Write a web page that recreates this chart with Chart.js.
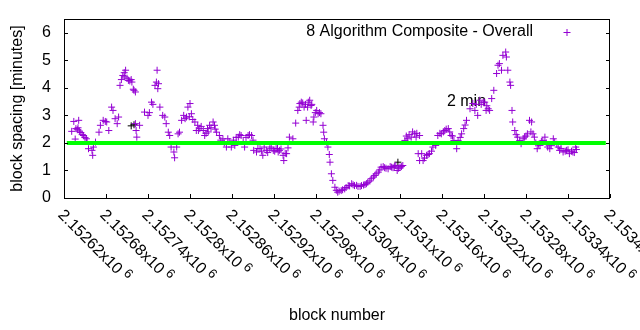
<!DOCTYPE html>
<html>
<head>
<meta charset="utf-8">
<title>block spacing</title>
<script src="https://cdn.jsdelivr.net/npm/chart.js@4.4.1/dist/chart.umd.min.js"></script>
<style>
  html, body { margin: 0; padding: 0; background: #fff; }
  #wrap { width: 640px; height: 330px; position: relative; }
</style>
</head>
<body>
<div id="wrap"><canvas id="chart"></canvas></div>
<script>
// 블록 번호 / 블록 간격(분) - 그림에서 읽은 값
const blockNumbers = [
  2152631, 2152634, 2152636, 2152637, 2152639, 2152640, 2152641, 2152642, 2152644, 2152646,
  2152648, 2152650, 2152652, 2152653, 2152655, 2152660, 2152661, 2152662, 2152665, 2152670,
  2152672, 2152676, 2152679, 2152681, 2152684, 2152688, 2152690, 2152693, 2152696, 2152698,
  2152700, 2152702, 2152704, 2152706, 2152707, 2152708, 2152710, 2152712, 2152714, 2152716,
  2152717, 2152719, 2152720, 2152722, 2152722, 2152723, 2152724, 2152728, 2152735, 2152740,
  2152742, 2152745, 2152747, 2152750, 2152752, 2152753, 2152754, 2152755, 2152757, 2152761,
  2152764, 2152766, 2152769, 2152771, 2152773, 2152777, 2152778, 2152781, 2152783, 2152785,
  2152788, 2152791, 2152793, 2152795, 2152797, 2152799, 2152800, 2152802, 2152804, 2152807,
  2152809, 2152811, 2152812, 2152814, 2152816, 2152819, 2152821, 2152823, 2152825, 2152826,
  2152828, 2152830, 2152833, 2152835, 2152836, 2152838, 2152842, 2152844, 2152847, 2152849,
  2152852, 2152854, 2152856, 2152859, 2152862, 2152864, 2152866, 2152869, 2152871, 2152873,
  2152876, 2152878, 2152880, 2152883, 2152885, 2152888, 2152890, 2152891, 2152895, 2152897,
  2152900, 2152902, 2152904, 2152906, 2152909, 2152911, 2152914, 2152916, 2152919, 2152921,
  2152923, 2152925, 2152926, 2152928, 2152930, 2152933, 2152934, 2152936, 2152938, 2152940,
  2152942, 2152947, 2152951, 2152954, 2152956, 2152957, 2152959, 2152961, 2152963, 2152965,
  2152966, 2152968, 2152969, 2152971, 2152973, 2152974, 2152976, 2152977, 2152979, 2152981,
  2152983, 2152985, 2152987, 2152990, 2152991, 2152992, 2152995, 2152997, 2152999, 2153000,
  2153002, 2153004, 2153007, 2153009, 2153011, 2153013, 2153016, 2153018, 2153021, 2153023,
  2153026, 2153028, 2153031, 2153033, 2153035, 2153038, 2153040, 2153043, 2153045, 2153048,
  2153050, 2153052, 2153054, 2153057, 2153059, 2153062, 2153064, 2153066, 2153069, 2153071,
  2153073, 2153076, 2153078, 2153080, 2153083, 2153086, 2153088, 2153090, 2153092, 2153094,
  2153096, 2153098, 2153100, 2153102, 2153104, 2153107, 2153109, 2153111, 2153113, 2153116,
  2153118, 2153121, 2153123, 2153124, 2153126, 2153128, 2153128, 2153131, 2153133, 2153135,
  2153138, 2153140, 2153142, 2153145, 2153147, 2153151, 2153154, 2153157, 2153159, 2153162,
  2153164, 2153166, 2153169, 2153171, 2153173, 2153175, 2153177, 2153181, 2153183, 2153186,
  2153188, 2153191, 2153193, 2153195, 2153200, 2153204, 2153207, 2153209, 2153211, 2153214,
  2153216, 2153219, 2153221, 2153223, 2153224, 2153226, 2153228, 2153231, 2153234, 2153238,
  2153240, 2153242, 2153245, 2153247, 2153251, 2153252, 2153254, 2153257, 2153258, 2153260,
  2153261, 2153264, 2153266, 2153268, 2153271, 2153273, 2153276, 2153278, 2153280, 2153282,
  2153285, 2153287, 2153288, 2153290, 2153292, 2153294, 2153296, 2153298, 2153300, 2153302,
  2153304, 2153307, 2153309, 2153311, 2153314, 2153316, 2153319, 2153321, 2153324, 2153326,
  2153328, 2153330, 2153333, 2153336, 2153338, 2153340, 2153342, 2153345, 2153347, 2153349,
  2153351, 2153352
];
const spacingMinutes = [
  2.42, 2.78, 2.14, 2.52, 2.48, 2.55, 2.82, 2.43, 2.38, 2.30,
  2.27, 2.20, 2.15, 2.05, 1.79, 1.73, 1.55, 1.85, 2.03, 2.39,
  2.64, 2.82, 2.78, 2.76, 2.45, 3.30, 3.18, 2.88, 2.70, 2.94,
  4.09, 4.30, 4.45, 4.55, 4.40, 4.64, 4.35, 4.27, 4.25, 4.30,
  4.21, 3.95, 3.91, 3.85, 2.70, 2.45, 2.21, 2.64, 3.12, 3.00,
  3.10, 3.48, 3.40, 4.09, 4.21, 4.64, 3.97, 4.15, 3.30, 3.00,
  2.94, 2.70, 2.39, 2.27, 1.85, 1.67, 1.46, 1.85, 2.33, 2.39,
  2.82, 3.00, 2.88, 2.94, 3.30, 2.95, 3.43, 3.06, 2.85, 2.76,
  2.45, 2.64, 2.45, 2.52, 2.60, 2.45, 2.27, 2.35, 2.52, 2.40,
  2.64, 2.55, 2.76, 2.64, 2.50, 2.39, 2.27, 2.10, 2.15, 2.00,
  1.85, 2.15, 2.05, 1.85, 2.10, 1.91, 2.20, 2.21, 2.30, 2.27,
  2.05, 1.85, 2.20, 2.27, 2.30, 2.27, 2.10, 1.73, 1.67, 1.80,
  1.79, 1.70, 1.55, 1.85, 1.73, 1.65, 1.79, 1.85, 1.73, 1.70,
  1.79, 1.80, 1.67, 1.73, 1.78, 1.55, 1.36, 1.62, 1.61, 1.82,
  2.21, 2.15, 2.72, 3.18, 3.30, 3.43, 3.48, 3.45, 3.30, 3.40,
  2.82, 3.30, 3.48, 3.55, 3.36, 3.40, 2.76, 2.94, 3.10, 3.18,
  3.06, 3.10, 3.06, 2.64, 2.39, 2.15, 2.03, 1.85, 1.58, 1.30,
  0.88, 0.64, 0.39, 0.28, 0.21, 0.25, 0.27, 0.30, 0.33, 0.38,
  0.45, 0.44, 0.52, 0.48, 0.45, 0.46, 0.42, 0.42, 0.45, 0.47,
  0.49, 0.52, 0.57, 0.62, 0.70, 0.76, 0.82, 0.88, 0.94, 1.02,
  1.12, 1.14, 1.10, 1.08, 1.06, 1.14, 1.12, 1.10, 1.15, 1.18,
  1.00, 1.08, 1.12, 1.14, 1.18, 2.09, 2.25, 2.15, 2.30, 2.21,
  2.40, 2.33, 2.21, 2.35, 1.61, 2.27, 1.36, 1.61, 1.36, 1.45,
  1.55, 1.58, 1.61, 1.70, 1.85, 1.91, 2.27, 2.35, 2.33, 2.40,
  2.45, 2.50, 2.52, 2.40, 2.27, 2.25, 2.09, 1.79, 2.09, 2.20,
  2.33, 2.52, 2.65, 2.82, 3.24, 3.43, 3.18, 3.40, 3.00, 3.55,
  3.40, 3.48, 3.48, 3.18, 3.35, 3.24, 3.18, 3.61, 3.91, 4.52,
  4.82, 4.88, 4.64, 5.18, 5.30, 5.12, 4.64, 4.21, 4.09, 3.18,
  2.76, 2.45, 2.30, 2.21, 2.09, 1.97, 2.15, 2.21, 2.25, 2.33,
  2.82, 2.40, 2.76, 2.33, 2.21, 2.00, 1.79, 1.95, 1.91, 2.05,
  2.09, 2.21, 2.00, 1.85, 1.79, 1.90, 2.15, 2.03, 1.95, 1.85,
  1.73, 1.80, 1.67, 1.70, 1.73, 1.75, 1.61, 1.70, 1.67, 1.65,
  1.85, 1.76
];

// 검은색으로 보이는 몇 개의 점
const blackBlocks = [2152716, 2152720, 2153097];
const blackSpacing = [2.62, 2.66, 1.30];

// 기준선 (2분)
const targetMinutes = 2;
const targetRange = [2152624, 2153394];

// 축 설정
const xMin = 2152620, xMax = 2153400;
const yMin = 0, yMax = 6.5;
const xTickValues = [2152620, 2152680, 2152740, 2152800, 2152860, 2152920, 2152980,
  2153040, 2153100, 2153160, 2153220, 2153280, 2153340, 2153400];
const xTickLabels = ['2.15262', '2.15268', '2.15274', '2.1528', '2.15286', '2.15292', '2.15298',
  '2.15304', '2.1531', '2.15316', '2.15322', '2.15328', '2.15334', '2.1534'];
const yTickValues = [0, 1, 2, 3, 4, 5, 6];

const seriesLabel = '8 Algorithm Composite - Overall';
const FONT = '"Liberation Sans", Arial, sans-serif';
const PURPLE = '#9400d3';

function toPoints(xs, ys) {
  return xs.map((x, i) => ({ x: x, y: ys[i] }));
}

// 축, 눈금, 라벨, 범례를 gnuplot 스타일로 그리는 플러그인
const gnuplotAxes = {
  id: 'gnuplotAxes',
  beforeDatasetsDraw(chart) {
    const { ctx, scales: { x, y } } = chart;
    ctx.save();
    ctx.fillStyle = '#000';
    ctx.font = '16px ' + FONT;
    ctx.textAlign = 'left';
    ctx.textBaseline = 'middle';
    ctx.fillText('2 min', x.getPixelForValue(2153167), y.getPixelForValue(3.5));
    ctx.restore();
  },
  afterDraw(chart) {
    const { ctx, chartArea: a, scales: { x, y } } = chart;
    ctx.save();
    ctx.strokeStyle = '#000';
    ctx.lineWidth = 1;
    ctx.strokeRect(a.left + 0.5, a.top + 0.5, a.right - a.left - 1, a.bottom - a.top);

    // y 눈금 (양쪽, 안쪽 방향)
    ctx.beginPath();
    yTickValues.forEach(v => {
      const py = Math.round(y.getPixelForValue(v)) + 0.5;
      ctx.moveTo(a.left, py); ctx.lineTo(a.left + 4, py);
      ctx.moveTo(a.right, py); ctx.lineTo(a.right - 4, py);
    });
    // x 눈금 (아래쪽만)
    xTickValues.forEach(v => {
      const px = Math.round(x.getPixelForValue(v)) + 0.5;
      ctx.moveTo(px, a.bottom); ctx.lineTo(px, a.bottom - 4);
    });
    ctx.stroke();

    ctx.fillStyle = '#000';
    ctx.font = '16px ' + FONT;
    ctx.textAlign = 'right';
    ctx.textBaseline = 'middle';
    yTickValues.forEach(v => {
      ctx.fillText(String(v), a.left - 13, y.getPixelForValue(v));
    });

    // 회전된 x 라벨
    xTickValues.forEach((v, i) => {
      const px = x.getPixelForValue(v);
      ctx.save();
      ctx.translate(px + 2, a.bottom + 9);
      ctx.rotate(Math.PI / 4);
      ctx.textAlign = 'left';
      ctx.textBaseline = 'top';
      ctx.font = '16px ' + FONT;
      const main = xTickLabels[i] + 'x10';
      ctx.fillText(main, 0, 0);
      const w = ctx.measureText(main).width;
      ctx.font = '13px ' + FONT;
      ctx.fillText('6', w + 4, -3);
      ctx.restore();
    });

    // 축 제목
    ctx.font = '16px ' + FONT;
    ctx.textAlign = 'center';
    ctx.textBaseline = 'middle';
    ctx.fillText('block number', (a.left + a.right) / 2, 316);
    ctx.save();
    ctx.translate(18, (a.top + a.bottom) / 2);
    ctx.rotate(-Math.PI / 2);
    ctx.fillText('block spacing [minutes]', 0, 0);
    ctx.restore();

    // 범례
    ctx.textAlign = 'right';
    ctx.fillText(seriesLabel, 533, 32);
    ctx.strokeStyle = PURPLE;
    ctx.beginPath();
    ctx.moveTo(563.5, 32.5); ctx.lineTo(570.5, 32.5);
    ctx.moveTo(567, 29); ctx.lineTo(567, 36);
    ctx.stroke();
    ctx.restore();
  }
};

const chart = new Chart(document.getElementById('chart'), {
  type: 'scatter',
  data: {
    datasets: [
      {
        type: 'line',
        label: '2 min',
        data: toPoints(targetRange, [targetMinutes, targetMinutes]),
        borderColor: '#00ff00',
        borderWidth: 4,
        pointRadius: 0,
        order: 0
      },
      {
        label: seriesLabel,
        data: toPoints(blockNumbers, spacingMinutes),
        pointStyle: 'cross',
        pointRadius: 3.5,
        borderColor: PURPLE,
        backgroundColor: PURPLE,
        borderWidth: 1,
        order: 1
      },
      {
        label: 'other',
        data: toPoints(blackBlocks, blackSpacing),
        pointStyle: 'cross',
        pointRadius: 3.5,
        borderColor: '#000',
        borderWidth: 1,
        order: 2
      }
    ]
  },
  options: {
    responsive: true,
    maintainAspectRatio: false,
    animation: false,
    layout: { padding: { left: 64, right: 30, top: 19, bottom: 132 } },
    plugins: { legend: { display: false }, tooltip: { enabled: false } },
    scales: {
      x: { type: 'linear', min: xMin, max: xMax, display: false },
      y: { type: 'linear', min: yMin, max: yMax, display: false }
    }
  },
  plugins: [gnuplotAxes]
});
</script>
</body>
</html>
